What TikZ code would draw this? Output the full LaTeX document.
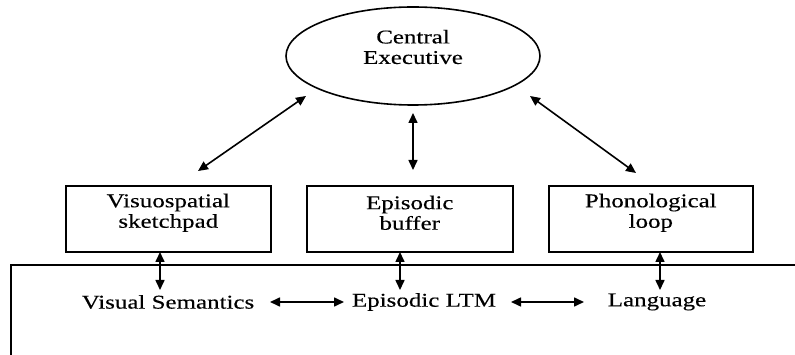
\documentclass[tikz,border=0pt]{standalone}
\usepackage{fontspec}
\setmainfont{Liberation Serif}
\newfontfamily\widefont[FakeStretch=1.28,FakeBold=0.3]{Liberation Serif}
\usetikzlibrary{arrows.meta,shapes.geometric}
\begin{document}
\begin{tikzpicture}[x=1pt,y=-1pt,
  lbl/.style={font=\widefont\fontsize{19.5}{20.5}\selectfont, align=center, inner sep=0pt},
  box/.style={draw, line width=1.6pt, minimum width=205pt, minimum height=66pt, anchor=north west},
  link/.style={line width=1.6pt, {Triangle[length=10pt,width=9pt]}-{Triangle[length=10pt,width=9pt]}}]
  \useasboundingbox (0,0) rectangle (795,355);
  % central executive
  \node[draw, ellipse, line width=1.6pt, minimum width=254pt, minimum height=98pt] (ce) at (413,56) {};
  \node[lbl] (cet) at ([yshift=9pt]ce.center) {Central\\Executive};
  % slave systems
  \node[box] (vs) at (65,185) {};
  \node[box, minimum width=206pt] (eb) at (306,185) {};
  \node[box, minimum width=204pt] (pl) at (548,185) {};
  \node[lbl] (vst) at ([yshift=6pt]vs.center) {Visuospatial\\sketchpad};
  \node[lbl] (ebt) at ([yshift=6pt]eb.center) {Episodic\\buffer};
  \node[lbl] (plt) at ([yshift=6pt]pl.center) {Phonological\\loop};
  % long-term memory region
  \coordinate (ltmA) at (11,355);
  \coordinate (ltmB) at (11,265);
  \coordinate (ltmC) at (795,265);
  \draw[line width=1.4pt] (ltmA) -- (ltmB) -- (ltmC);
  % long-term stores
  \node[lbl] (vsem) at (168,302) {Visual Semantics};
  \node[lbl] (eltm) at (424,302) {Episodic LTM};
  \node[lbl] (lang) at (657,302) {Language};
  % links to the central executive
  \coordinate (a1) at (198,171);
  \coordinate (a2) at (306,96);
  \draw[link] (a1) -- (a2);
  \coordinate (b1) at (413,113);
  \coordinate (b2) at (413,170);
  \draw[link] (b1) -- (b2);
  \coordinate (c1) at (530,96);
  \coordinate (c2) at (636,173);
  \draw[link] (c1) -- (c2);
  % links between subsystems and stores
  \coordinate (v1) at (160,252);
  \coordinate (v2) at (160,290);
  \draw[link] (v1) -- (v2);
  \coordinate (e1) at (400,252);
  \coordinate (e2) at (400,290);
  \draw[link] (e1) -- (e2);
  \coordinate (p1) at (660,252);
  \coordinate (p2) at (660,290);
  \draw[link] (p1) -- (p2);
  % links among the stores
  \coordinate (h1) at (270,302);
  \coordinate (h2) at (344,302);
  \draw[link] (h1) -- (h2);
  \coordinate (h3) at (511,302);
  \coordinate (h4) at (584,302);
  \draw[link] (h3) -- (h4);
\end{tikzpicture}
\end{document}
